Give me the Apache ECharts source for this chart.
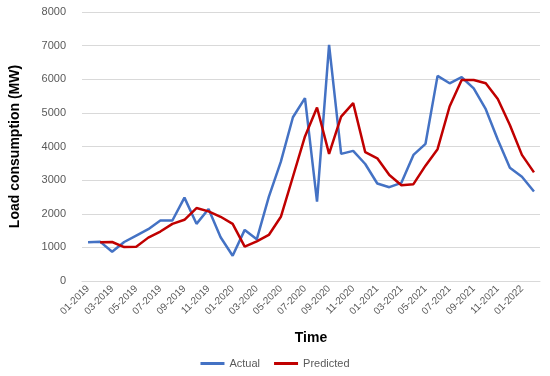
<!DOCTYPE html>
<html><head><meta charset="utf-8">
<script src="https://cdn.jsdelivr.net/npm/echarts@6/dist/echarts.min.js"></script>
<style>html,body{margin:0;padding:0;background:#fff}#c{width:550px;height:376px}</style>
</head><body><div id="c"></div>
<script>
const months = ['01-2019','02-2019','03-2019','04-2019','05-2019','06-2019','07-2019','08-2019','09-2019','10-2019','11-2019','12-2019',
'01-2020','02-2020','03-2020','04-2020','05-2020','06-2020','07-2020','08-2020','09-2020','10-2020','11-2020','12-2020',
'01-2021','02-2021','03-2021','04-2021','05-2021','06-2021','07-2021','08-2021','09-2021','10-2021','11-2021','12-2021',
'01-2022','02-2022'];
const actual = [1150,1170,870,1160,1350,1540,1800,1800,2480,1700,2140,1300,
750,1520,1240,2500,3550,4870,5440,2360,7020,3780,3870,3480,
2900,2790,2920,3750,4080,6100,5880,6060,5730,5110,4200,3370,
3100,2660];
const predicted = [null,1150,1160,1010,1020,1290,1470,1700,1820,2170,2070,1910,
1700,1020,1180,1370,1910,3100,4300,5160,3780,4890,5290,3830,
3650,3150,2850,2880,3430,3920,5190,5980,5980,5880,5410,4640,
3750,3230];
const yTicks = {min:0,max:8000,interval:1000};

const chart = echarts.init(document.getElementById('c'));
const font = 'Liberation Sans, Arial, sans-serif';
chart.setOption({
  animation:false,
  textStyle:{fontFamily:font},
  grid:{left:80,right:10,top:12,bottom:95,containLabel:false},
  xAxis:{type:'category',data:months,boundaryGap:true,
    name:'Time',nameLocation:'middle',nameGap:50,
    nameTextStyle:{fontSize:14,fontWeight:'bold',color:'#000',fontFamily:font},
    axisLine:{show:true,lineStyle:{color:'#d9d9d9'}},axisTick:{show:false},
    axisLabel:{interval:1,rotate:45,color:'#595959',fontSize:10,margin:6,fontFamily:font}},
  yAxis:{type:'value',min:yTicks.min,max:yTicks.max,interval:yTicks.interval,
    name:'Load consumption (MW)',nameLocation:'middle',nameGap:60,
    nameTextStyle:{fontSize:14,fontWeight:'bold',color:'#000',fontFamily:font},
    axisLine:{show:false},axisTick:{show:false},
    axisLabel:{color:'#595959',fontSize:11,margin:16,fontFamily:font,formatter:v=>String(v)},
    splitLine:{lineStyle:{color:'#d9d9d9',width:1}}},
  legend:{bottom:2,left:'center',icon:'rect',itemWidth:24,itemHeight:3,itemGap:14,
    textStyle:{color:'#595959',fontSize:11,fontFamily:font},
    data:['Actual','Predicted']},
  series:[
    {name:'Actual',type:'line',data:actual,symbol:'none',lineStyle:{color:'#4472C4',width:2.5},itemStyle:{color:'#4472C4'}},
    {name:'Predicted',type:'line',data:predicted,symbol:'none',lineStyle:{color:'#C00000',width:2.5},itemStyle:{color:'#C00000'}}
  ]
});
</script></body></html>
